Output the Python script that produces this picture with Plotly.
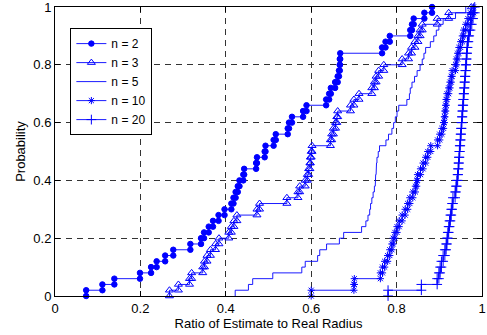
import plotly.graph_objects as go

n2 = [0.073, 0.111, 0.139, 0.199, 0.225, 0.238, 0.258, 0.277, 0.317, 0.342,
      0.349, 0.360, 0.370, 0.383, 0.397, 0.413, 0.418, 0.423, 0.428, 0.432,
      0.441, 0.443, 0.471, 0.473, 0.491, 0.493, 0.512, 0.517, 0.545, 0.548,
      0.555, 0.581, 0.589, 0.635, 0.642, 0.646, 0.656, 0.662, 0.665, 0.667,
      0.667, 0.668, 0.688, 0.766, 0.774, 0.784, 0.832, 0.836, 0.840, 0.865,
      0.883]
n2 = n2[:42] + n2[43:]

n3 = [0.268, 0.289, 0.315, 0.320, 0.346, 0.350, 0.356, 0.364, 0.376, 0.384,
      0.407, 0.413, 0.419, 0.426, 0.473, 0.479, 0.543, 0.569, 0.573, 0.586,
      0.591, 0.594, 0.597, 0.598, 0.600, 0.602, 0.645, 0.648, 0.652, 0.657,
      0.660, 0.662, 0.692, 0.700, 0.712, 0.742, 0.748, 0.752, 0.758, 0.770,
      0.813, 0.828, 0.835, 0.843, 0.850, 0.855, 0.860, 0.895, 0.922, 0.975]

n5 = [0.422, 0.453, 0.463, 0.510, 0.578, 0.586, 0.615, 0.620, 0.636, 0.666,
      0.676, 0.718, 0.728, 0.733, 0.737, 0.739, 0.742, 0.745, 0.748, 0.750,
      0.751, 0.752, 0.753, 0.754, 0.757, 0.760, 0.775, 0.781, 0.789, 0.793,
      0.797, 0.801, 0.805, 0.824, 0.830, 0.832, 0.836, 0.842, 0.848, 0.855,
      0.860, 0.864, 0.868, 0.879, 0.887, 0.893, 0.899, 0.909, 0.938, 0.962]

n10 = [0.600, 0.700, 0.701, 0.762, 0.767, 0.772, 0.779, 0.784, 0.789, 0.792,
       0.796, 0.801, 0.806, 0.813, 0.820, 0.826, 0.831, 0.838, 0.844, 0.847,
       0.849, 0.856, 0.862, 0.868, 0.873, 0.880, 0.896, 0.901, 0.906, 0.910,
       0.912, 0.913, 0.915, 0.916, 0.918, 0.922, 0.925, 0.928, 0.930, 0.938,
       0.940, 0.943, 0.946, 0.950, 0.954, 0.957, 0.962, 0.967, 0.973, 0.980]

n20 = [0.780, 0.858, 0.895, 0.899, 0.902, 0.905, 0.909, 0.913, 0.916, 0.918,
       0.920, 0.922, 0.924, 0.926, 0.928, 0.930, 0.932, 0.937, 0.939, 0.941,
       0.943, 0.944, 0.945, 0.946, 0.947, 0.948, 0.949, 0.950, 0.951, 0.952,
       0.953, 0.954, 0.955, 0.956, 0.957, 0.958, 0.959, 0.960, 0.961, 0.962,
       0.963, 0.964, 0.965, 0.966, 0.968, 0.970, 0.973, 0.976, 0.979, 0.983]

series_names = ["n = 2", "n = 3", "n = 5", "n = 10", "n = 20"]
series_data = [n2, n3, n5, n10, n20]
tick_vals = [0, 0.2, 0.4, 0.6, 0.8, 1]
tick_text = ["0", "0.2", "0.4", "0.6", "0.8", "1"]

styles = [
    dict(mode="lines+markers", symbol="circle", size=5.5),
    dict(mode="lines+markers", symbol="triangle-up-open", size=7),
    dict(mode="lines", symbol=None, size=0),
    dict(mode="lines+markers", symbol="asterisk-open", size=6),
    dict(mode="lines+markers", symbol="cross-thin-open", size=7),
]

BLUE = "#0000ff"


def stairs(values):
    xs, ys = [], []
    s = sorted(values)
    N = len(s)
    for i, v in enumerate(s):
        xs += [v, v]
        ys += [i / N, (i + 1) / N]
    return xs, ys


fig = go.Figure()
for name, vals, st in zip(series_names, series_data, styles):
    xs, ys = stairs(vals)
    kw = dict(x=xs, y=ys, name=name, mode=st["mode"],
              line=dict(color=BLUE, width=0.9), cliponaxis=False)
    if st["symbol"]:
        kw["marker"] = dict(symbol=st["symbol"], size=st["size"], color=BLUE,
                            line=dict(color=BLUE, width=1))
    fig.add_trace(go.Scatter(**kw))

axis_common = dict(
    range=[0, 1], tickvals=tick_vals, ticktext=tick_text,
    ticks="inside", ticklen=5, tickcolor="black",
    showline=True, linecolor="black", linewidth=1, mirror="ticks",
    showgrid=True, gridcolor="#333333", gridwidth=1, griddash="6px,5px",
    zeroline=False, tickfont=dict(size=13, color="black"), automargin=False,
    ticklabeloverflow="allow",
)

fig.update_xaxes(**axis_common, title=dict(text="Ratio of Estimate to Real Radius",
                                            font=dict(size=13, color="black"), standoff=0))
fig.update_yaxes(**axis_common, title=dict(text="Probability",
                                            font=dict(size=13, color="black"), standoff=4))

fig.update_layout(
    width=487, height=335,
    margin=dict(l=55, r=5, t=7, b=39),
    plot_bgcolor="white", paper_bgcolor="white",
    font=dict(family="Liberation Sans, Arial, sans-serif", color="black", size=13),
    legend=dict(x=0.036, y=0.927, xanchor="left", yanchor="top",
                bgcolor="white", bordercolor="black", borderwidth=1,
                font=dict(size=12), itemwidth=30, tracegroupgap=0),
    showlegend=True,
)

fig.write_html("out.html", config={"displayModeBar": False},
               post_script="document.body.style.margin='0';document.body.style.overflow='hidden';")
